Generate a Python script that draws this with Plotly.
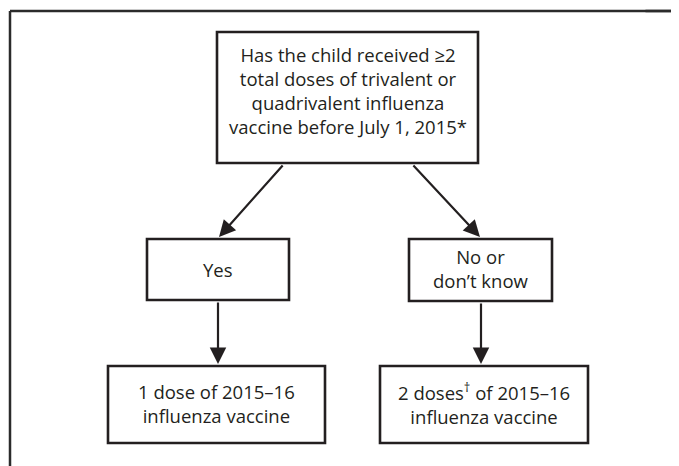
import plotly.graph_objects as go

# Flowchart node labels
question_lines = ["Has the child received \u22652", "total doses of trivalent or",
                  "quadrivalent influenza", "vaccine before July 1, 2015*"]
yes_label = ["Yes"]
no_label = ["No or", "don\u2019t know"]
one_dose_lines = ["1 dose of 2015\u201316", "influenza vaccine"]
two_dose_lines = ["2 doses<sup>\u2020</sup> of 2015\u201316", "influenza vaccine"]

W, H = 679, 466
OFF = 8  # default page body margin
INK = "#231f20"
FONT = "Open Sans"
FS = 18.5

fig = go.Figure()
fig.add_trace(go.Scatter(x=[OFF, W], y=[OFF, H], mode="markers",
                         marker=dict(opacity=0), hoverinfo="skip", showlegend=False))

shapes = []
# outer frame (top and left visible)
shapes.append(dict(type="line", xref="x", yref="y", x0=10, y0=11, x1=W + 5, y1=11,
                   line=dict(color="#2b2b2b", width=2.5)))
shapes.append(dict(type="line", xref="paper", yref="y", x0=0.95, y0=11, x1=1.05, y1=11,
                   line=dict(color="#2b2b2b", width=2.5)))
shapes.append(dict(type="line", x0=10, y0=11, x1=10, y1=H + 5,
                   line=dict(color="#2b2b2b", width=2.5)))

boxes = [
    (217, 32, 478, 163, question_lines, 90.5),
    (147, 239, 289, 300, yes_label, 269),
    (409, 239, 552, 301, no_label, 268),
    (108, 366, 325, 443, one_dose_lines, 403),
    (380, 366, 588, 443, two_dose_lines, 403),
]

annotations = []
for x0, y0, x1, y1, lines, ty in boxes:
    shapes.append(dict(type="rect", x0=x0, y0=y0, x1=x1, y1=y1,
                       line=dict(color=INK, width=2.6), fillcolor="white"))
    annotations.append(dict(x=(x0 + x1) / 2, y=ty, xref="x", yref="y",
                            text="<br>".join(lines), showarrow=False,
                            font=dict(family=FONT, size=FS, color=INK),
                            align="center", xanchor="center", yanchor="middle"))

arrows = [
    ((284, 164), (219, 237)),
    ((412, 164), (480, 237)),
    ((218, 301), (218, 364)),
    ((481, 302), (481, 364)),
]
for (tx, ty), (hx, hy) in arrows:
    annotations.append(dict(x=hx, y=hy, ax=tx, ay=ty, xref="x", yref="y",
                            axref="x", ayref="y", showarrow=True, text="",
                            arrowhead=2, arrowsize=1.5, arrowwidth=2.2,
                            arrowcolor=INK, standoff=0))

fig.update_layout(
    width=W - OFF, height=H - OFF, margin=dict(l=0, r=0, t=0, b=0),
    paper_bgcolor="white", plot_bgcolor="white",
    xaxis=dict(range=[OFF, W], visible=False, fixedrange=True),
    yaxis=dict(range=[H, OFF], visible=False, fixedrange=True),
    shapes=shapes, annotations=annotations, showlegend=False,
)

fig.write_html("out.html")
